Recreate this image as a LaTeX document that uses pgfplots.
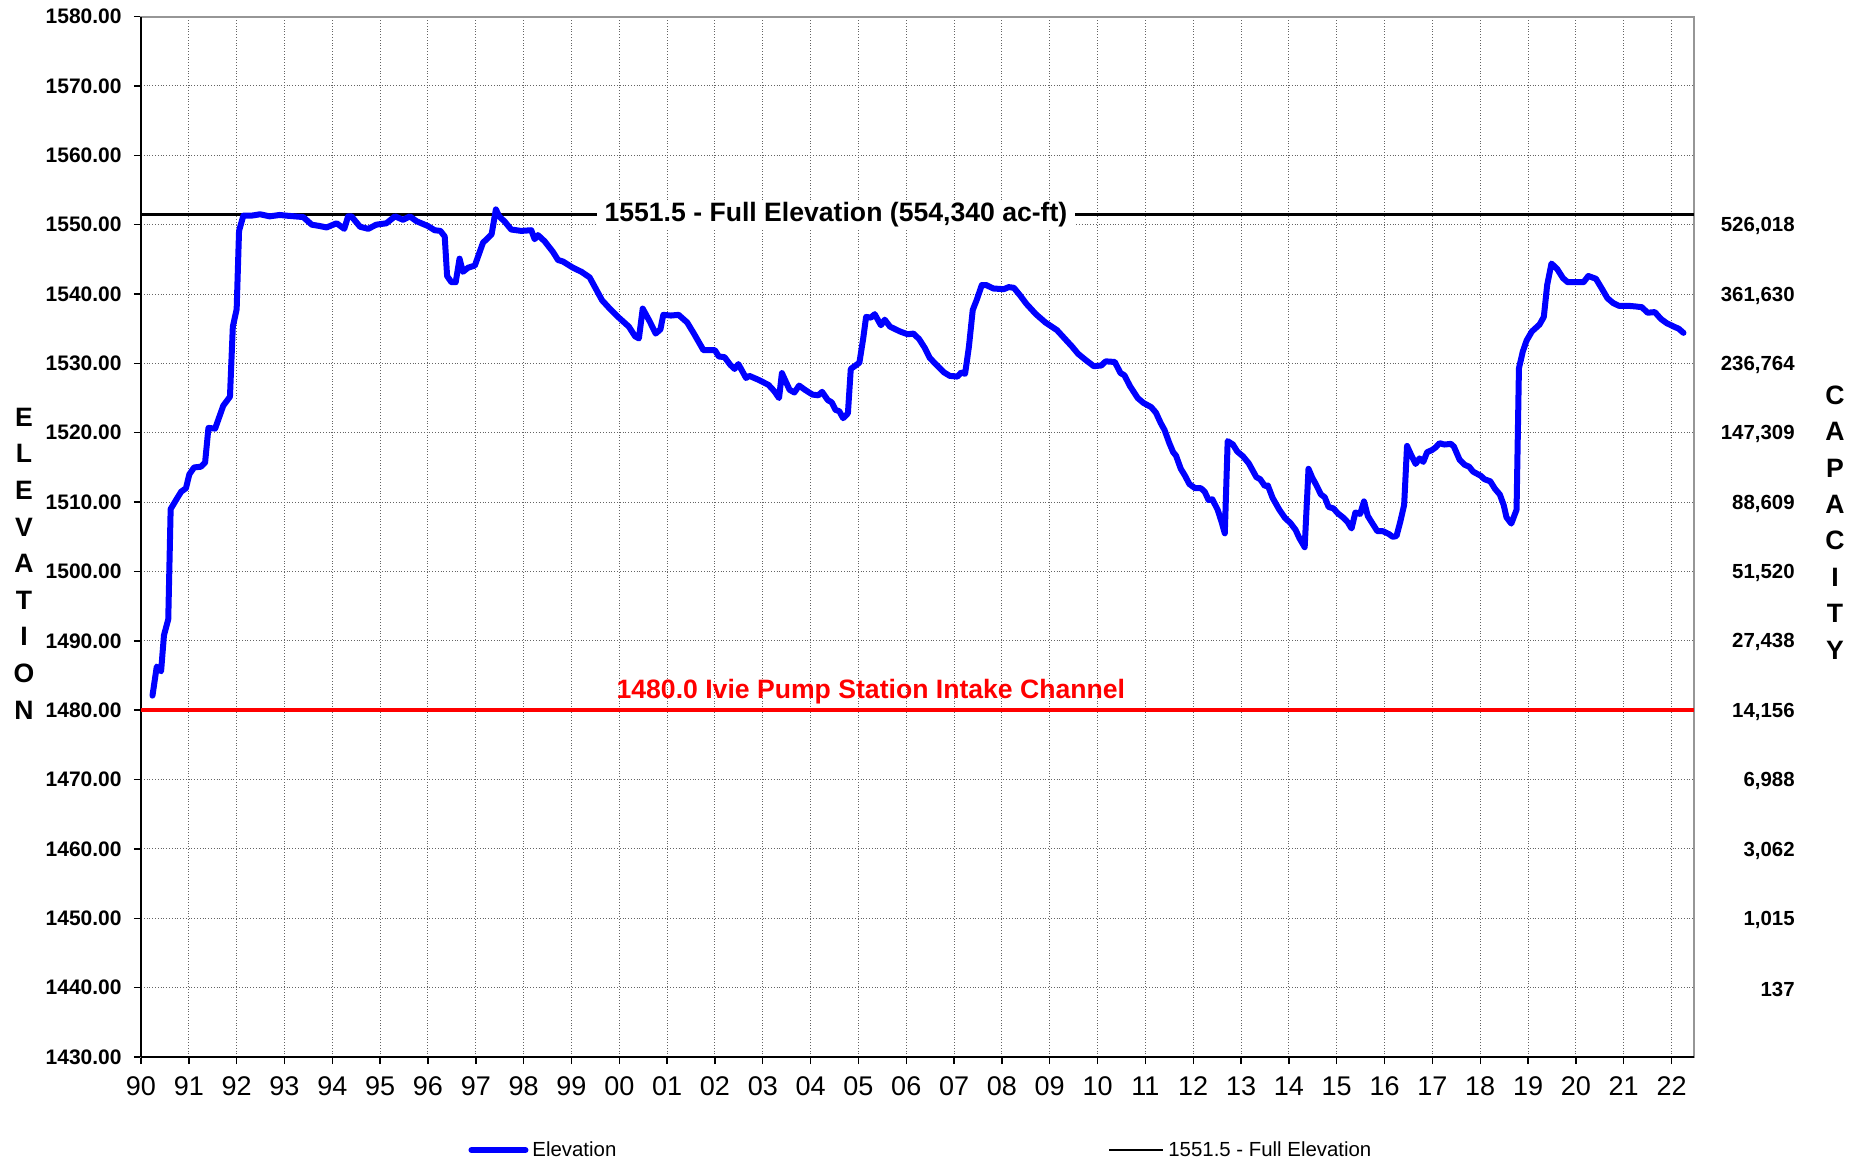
\documentclass[border=0pt]{standalone}
\usepackage{fontspec}
\setmainfont{Liberation Sans}
\usepackage{pgfplots}
\pgfplotsset{compat=1.18}
\definecolor{elevblue}{RGB}{0,0,255}
\definecolor{gridgray}{RGB}{100,100,100}
\definecolor{framegray}{RGB}{150,150,150}
\begin{document}
\begin{tikzpicture}
\useasboundingbox (0,0) rectangle (930pt,584pt);
\begin{axis}[
  at={(70.5pt,55.5pt)}, anchor=south west,
  scale only axis, width=776.5pt, height=520.2pt,
  xmin=0, xmax=32.47, ymin=1430, ymax=1580,
  clip=false,
  axis line style={framegray, line width=1pt},
  tick pos=left, tick align=outside,
  major tick length=3.5pt,
  major tick style={black, line width=0.7pt},
  grid=major,
  major grid style={gridgray, densely dotted, line width=0.5pt},
  xtick={0,1,...,32},
  xticklabels={90,91,92,93,94,95,96,97,98,99,00,01,02,03,04,05,06,07,08,09,10,11,12,13,14,15,16,17,18,19,20,21,22},
  xticklabel style={font=\fontsize{13.5}{15}\selectfont, anchor=north, inner sep=0pt, yshift=-6.3pt},
  ytick={1430,1440,...,1580},
  yticklabels={1430.00,1440.00,1450.00,1460.00,1470.00,1480.00,1490.00,1500.00,1510.00,1520.00,1530.00,1540.00,1550.00,1560.00,1570.00,1580.00},
  yticklabel style={font=\bfseries\fontsize{10.5}{12}\selectfont, anchor=east, inner sep=0pt, xshift=-6pt},
  legend style={at={(0.2106,-0.0895)}, anchor=west, draw=none, fill=none, inner sep=0pt,
    font=\fontsize{10.2}{12}\selectfont, legend columns=2,
    /tikz/every even column/.append style={column sep=244pt}},
  legend cell align=left,
  legend image code/.code={\draw[#1] (0pt,0pt) -- (27pt,0pt);},
]
% axis lines left and bottom in black
\draw[black, line width=1pt] (rel axis cs:0,0) -- (rel axis cs:0,1);
\draw[black, line width=1pt] (rel axis cs:0,0) -- (rel axis cs:1,0);

\addplot[red, line width=2pt, forget plot] coordinates {(0,1480) (32.47,1480)};
\addplot[black, line width=1.5pt, forget plot] coordinates {(0,1551.5) (32.47,1551.5)};

\addplot[elevblue, line width=3pt, line join=round, line cap=round] coordinates {
(0.24,1482.1) (0.33,1486.3) (0.42,1485.6) (0.48,1490.8) (0.57,1493.1) (0.62,1509.0)
(0.75,1510.5) (0.84,1511.5) (0.94,1512.0) (1.01,1514.0) (1.11,1515.0) (1.25,1515.1)
(1.34,1515.7) (1.41,1520.7) (1.55,1520.6) (1.72,1523.9) (1.86,1525.2) (1.92,1535.3)
(2.00,1537.8) (2.05,1549.1) (2.14,1551.3) (2.31,1551.3) (2.49,1551.5) (2.69,1551.2)
(2.90,1551.4) (3.04,1551.3) (3.39,1551.1) (3.57,1550.0) (3.74,1549.8) (3.88,1549.6)
(4.09,1550.2) (4.25,1549.4) (4.33,1551.2) (4.40,1551.2) (4.58,1549.7) (4.75,1549.4)
(4.92,1550.0) (5.13,1550.2) (5.31,1551.2) (5.48,1550.7) (5.62,1551.2) (5.76,1550.5)
(6.00,1549.8) (6.14,1549.2) (6.26,1549.1) (6.35,1548.3) (6.40,1542.6) (6.49,1541.7)
(6.58,1541.7) (6.66,1545.1) (6.73,1543.2) (6.84,1543.8) (6.98,1544.1) (7.15,1547.4)
(7.33,1548.6) (7.42,1552.2) (7.49,1551.2) (7.61,1550.4) (7.74,1549.3) (7.95,1549.1)
(8.16,1549.2) (8.23,1547.9) (8.30,1548.5) (8.44,1547.6) (8.61,1546.1) (8.72,1544.9)
(8.82,1544.7) (9.03,1543.8) (9.21,1543.2) (9.38,1542.4) (9.64,1539.1) (9.80,1537.9)
(9.99,1536.6) (10.20,1535.3) (10.33,1533.9) (10.41,1533.6) (10.49,1537.9) (10.64,1536.0)
(10.76,1534.3) (10.86,1534.9) (10.92,1537.0) (11.08,1536.9) (11.24,1537.0) (11.42,1535.9)
(11.56,1534.3) (11.76,1531.9) (12.00,1531.9) (12.08,1531.0) (12.20,1530.9) (12.32,1529.8)
(12.41,1529.2) (12.49,1529.9) (12.65,1527.9) (12.72,1528.2) (12.92,1527.6) (13.12,1526.9)
(13.24,1526.0) (13.34,1525.0) (13.40,1528.6) (13.56,1526.2) (13.66,1525.8) (13.76,1526.8)
(13.88,1526.2) (14.04,1525.5) (14.16,1525.4) (14.24,1525.9) (14.36,1524.7) (14.44,1524.4)
(14.52,1523.3) (14.60,1523.1) (14.68,1522.1) (14.78,1522.8) (14.84,1529.2) (14.96,1529.8)
(15.02,1530.1) (15.10,1533.6) (15.16,1536.7) (15.26,1536.6) (15.34,1537.1) (15.47,1535.5)
(15.55,1536.3) (15.66,1535.3) (15.87,1534.6) (16.03,1534.2) (16.15,1534.3) (16.27,1533.5)
(16.39,1532.2) (16.49,1530.8) (16.63,1529.8) (16.79,1528.7) (16.91,1528.2) (17.07,1528.1)
(17.15,1528.7) (17.23,1528.5) (17.31,1532.4) (17.39,1537.7) (17.47,1539.1) (17.58,1541.3)
(17.67,1541.3) (17.82,1540.8) (18.04,1540.7) (18.14,1541.0) (18.25,1540.9) (18.38,1539.8)
(18.51,1538.6) (18.71,1537.1) (18.91,1535.9) (19.15,1534.8) (19.31,1533.6) (19.47,1532.4)
(19.59,1531.4) (19.75,1530.5) (19.92,1529.6) (20.08,1529.7) (20.17,1530.3) (20.36,1530.2)
(20.48,1528.6) (20.56,1528.3) (20.68,1526.7) (20.84,1525.0) (20.96,1524.3) (21.12,1523.7)
(21.22,1522.9) (21.32,1521.4) (21.40,1520.4) (21.50,1518.5) (21.58,1517.2) (21.64,1516.7)
(21.74,1514.8) (21.82,1513.9) (21.92,1512.6) (22.04,1512.0) (22.16,1512.0) (22.24,1511.5)
(22.32,1510.3) (22.40,1510.4) (22.51,1508.9) (22.59,1507.2) (22.66,1505.5) (22.72,1518.8)
(22.83,1518.3) (22.92,1517.3) (23.04,1516.6) (23.16,1515.6) (23.32,1513.6) (23.40,1513.3)
(23.50,1512.3) (23.56,1512.4) (23.66,1510.6) (23.80,1508.9) (23.92,1507.7) (24.03,1507.0)
(24.14,1506.0) (24.22,1504.8) (24.33,1503.5) (24.41,1514.8) (24.49,1513.5) (24.57,1512.5)
(24.67,1511.1) (24.75,1510.7) (24.83,1509.3) (24.93,1509.1) (25.02,1508.4) (25.13,1507.8)
(25.23,1507.1) (25.31,1506.2) (25.39,1508.5) (25.49,1508.3) (25.57,1510.1) (25.65,1508.0)
(25.74,1507.0) (25.85,1505.8) (25.97,1505.8) (26.09,1505.4) (26.17,1505.0) (26.25,1505.1)
(26.33,1507.2) (26.41,1509.6) (26.47,1518.1) (26.57,1516.6) (26.65,1515.5) (26.73,1516.3)
(26.81,1515.8) (26.89,1517.2) (26.99,1517.5) (27.07,1517.9) (27.15,1518.5) (27.25,1518.3)
(27.39,1518.4) (27.45,1518.0) (27.57,1516.1) (27.67,1515.4) (27.77,1515.1) (27.85,1514.4)
(28.01,1513.8) (28.09,1513.3) (28.21,1513.0) (28.31,1511.9) (28.41,1511.1) (28.49,1509.6)
(28.55,1507.8) (28.65,1506.9) (28.76,1508.9) (28.81,1529.3) (28.89,1531.7) (28.97,1533.3)
(29.08,1534.6) (29.24,1535.6) (29.33,1536.7) (29.40,1541.3) (29.49,1544.4) (29.61,1543.6)
(29.73,1542.3) (29.83,1541.7) (30.02,1541.7) (30.16,1541.7) (30.26,1542.6) (30.42,1542.2)
(30.55,1540.7) (30.66,1539.4) (30.78,1538.7) (30.90,1538.3) (31.10,1538.3) (31.26,1538.2)
(31.38,1538.1) (31.50,1537.3) (31.65,1537.4) (31.78,1536.4) (31.90,1535.8) (32.05,1535.3)
(32.15,1535.0) (32.25,1534.4)
};
\addlegendentry{Elevation}
\addlegendimage{black, line width=1pt}
\addlegendentry{1551.5 - Full Elevation}

% annotations
\node[fill=white, inner xsep=4pt, inner ysep=1pt, font=\bfseries\fontsize{13.3}{15}\selectfont]
  at (axis cs:14.53,1551.4) {1551.5 - Full Elevation (554,340 ac-ft)};
\node[text=red, inner sep=0pt, font=\bfseries\fontsize{13.3}{15}\selectfont]
  at (axis cs:15.26,1482.7) {1480.0 Ivie Pump Station Intake Channel};

% capacity labels (right side)
\begin{scope}[every node/.style={anchor=east, inner sep=0pt, xshift=50.5pt, yshift=-0.8pt, font=\bfseries\fontsize{10.2}{12}\selectfont}]
\node at (axis cs:32.47,1550) {526,018};
\node at (axis cs:32.47,1540) {361,630};
\node at (axis cs:32.47,1530) {236,764};
\node at (axis cs:32.47,1520) {147,309};
\node at (axis cs:32.47,1510) {88,609};
\node at (axis cs:32.47,1500) {51,520};
\node at (axis cs:32.47,1490) {27,438};
\node at (axis cs:32.47,1480) {14,156};
\node at (axis cs:32.47,1470) {6,988};
\node at (axis cs:32.47,1460) {3,062};
\node at (axis cs:32.47,1450) {1,015};
\node at (axis cs:32.47,1440) {137};
\end{scope}
\end{axis}
\node[align=center, font=\bfseries\fontsize{13.3}{18.3}\selectfont] at (12pt,302.25pt) {E\\L\\E\\V\\A\\T\\I\\O\\N};
\node[align=center, font=\bfseries\fontsize{13.3}{18.2}\selectfont] at (917.5pt,322.75pt) {C\\A\\P\\A\\C\\I\\T\\Y};
\end{tikzpicture}
\end{document}
